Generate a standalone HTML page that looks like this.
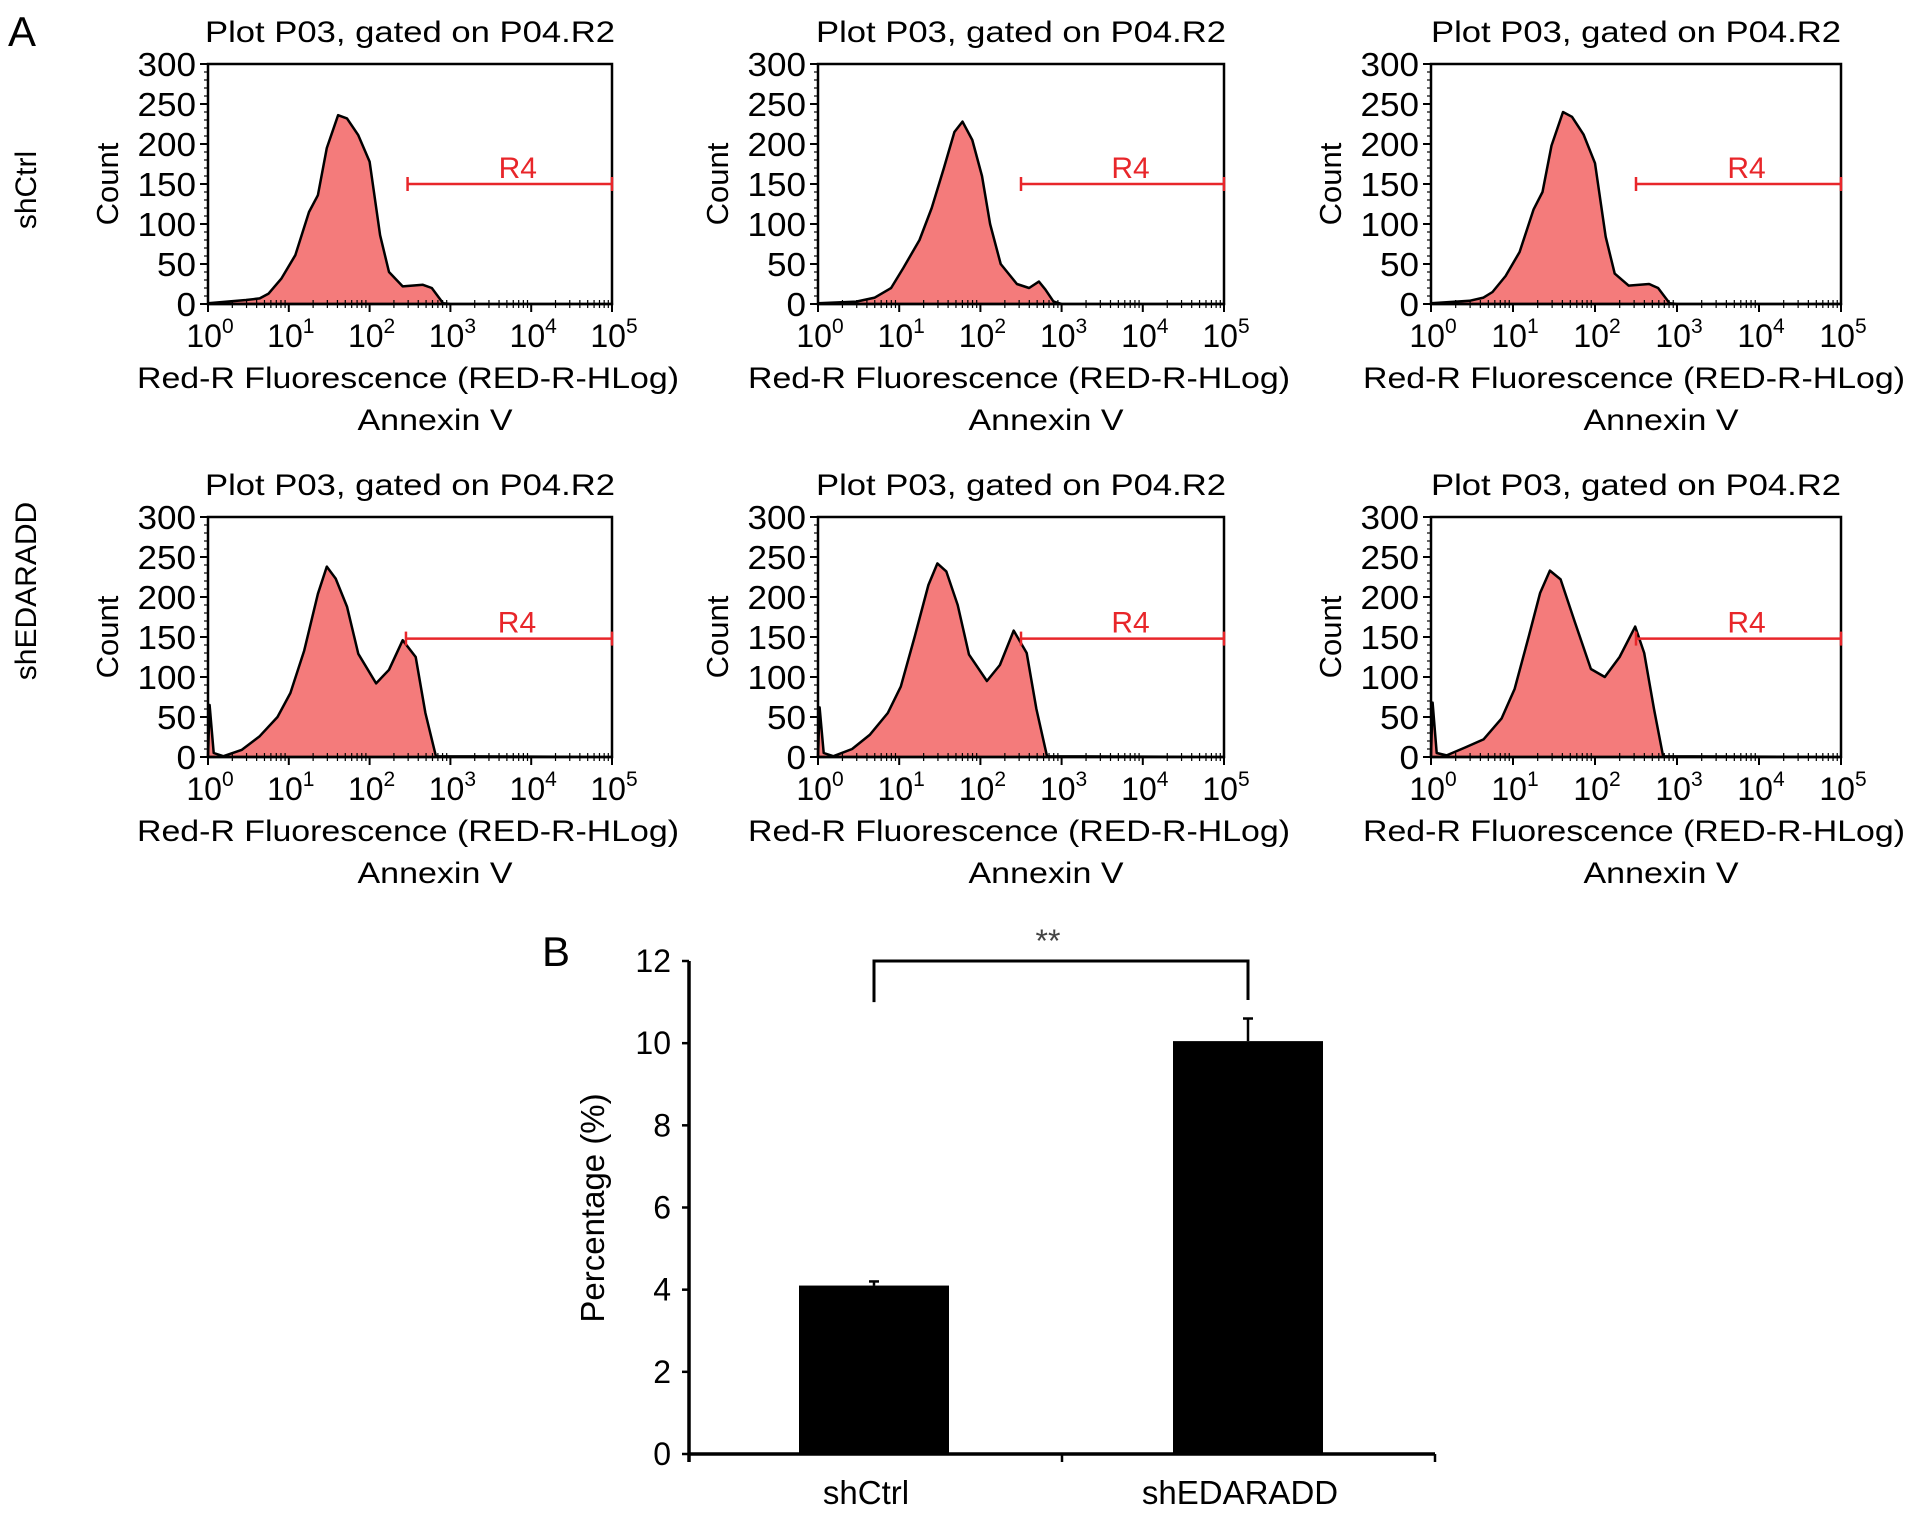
<!DOCTYPE html>
<html><head><meta charset="utf-8"><style>
html,body{margin:0;padding:0;background:#fff;overflow:hidden;}
svg{display:block;font-family:"Liberation Sans",Arial,sans-serif;}
</style></head><body>
<svg id="fig" width="1913" height="1513" viewBox="0 0 1913 1513" xmlns="http://www.w3.org/2000/svg">
<text x="8" y="46" font-size="42">A</text>
<text x="542" y="966" font-size="42">B</text>
<text transform="translate(36,190) rotate(-90)" text-anchor="middle" font-size="30">shCtrl</text>
<text transform="translate(36,591) rotate(-90)" text-anchor="middle" font-size="30">shEDARADD</text>
<g id="hists"></g>
<g id="bars"></g>
</svg>
<script>
// Histogram data: log10 fluorescence positions and counts per panel
const histX1 = [0,0.47,0.64,0.75,0.91,1.08,1.25,1.36,1.47,1.61,1.72,1.86,2.0,2.13,2.24,2.41,2.66,2.77,2.91,3.0,5];
const histY1 = [1,5,7,13,32,61,115,136,195,236,232,211,178,86,40,22,24,20,1,0,0];
const histX2 = [0,0.47,0.7,0.9,1.05,1.25,1.4,1.55,1.68,1.78,1.9,2.02,2.12,2.25,2.45,2.6,2.72,2.8,2.9,3.0,5];
const histY2 = [1,3,8,20,45,80,120,170,215,228,205,160,100,50,25,20,28,18,3,0,0];
const histY3 = [1,4,8,15,35,65,118,140,198,240,234,212,176,84,38,23,25,20,1,0,0];
const histX4 = [0,0.02,0.07,0.19,0.42,0.64,0.86,1.02,1.19,1.36,1.47,1.58,1.72,1.86,2.08,2.24,2.41,2.57,2.69,2.82,5];
const histY4 = [1,65,5,1,9,26,50,80,133,204,238,223,188,129,92,109,146,125,55,1,0];
const histY5 = [1,62,5,1,10,28,55,88,150,215,242,232,190,128,95,115,158,130,60,1,0];
const histX6 = [0,0.02,0.07,0.19,0.42,0.64,0.86,1.02,1.19,1.33,1.45,1.58,1.75,1.95,2.12,2.3,2.49,2.6,2.72,2.83,5];
const histY6 = [1,68,5,2,12,22,48,85,150,205,233,222,170,110,100,125,163,130,60,1,0];
const yTicks = [0,50,100,150,200,250,300];
const xDecades = [0,1,2,3,4,5];
const r4Start = [2.47,2.5,2.5,2.45,2.5,2.5];
const r4Level = [150,150,150,148,148,148];

const panels = [
  {x:208,y:64,w:404,hx:histX1,hy:histY1},
  {x:818,y:64,w:406,hx:histX2,hy:histY2},
  {x:1431,y:64,w:410,hx:histX1,hy:histY3},
  {x:208,y:517,w:404,hx:histX4,hy:histY4},
  {x:818,y:517,w:406,hx:histX4,hy:histY5},
  {x:1431,y:517,w:410,hx:histX6,hy:histY6}
];
const NS='http://www.w3.org/2000/svg';
function mk(tag,attrs,parent){const e=document.createElementNS(NS,tag);for(const k in attrs)e.setAttribute(k,attrs[k]);parent.appendChild(e);return e;}
const H=240;
const hg=document.getElementById('hists');
panels.forEach((p,i)=>{
  const g=mk('g',{},hg);
  
  
  const sx=v=>p.x+v/5*p.w, sy=v=>p.y+H-v/300*H;
  let d='M'+sx(p.hx[0])+','+sy(0);
  p.hx.forEach((v,j)=>{d+=' L'+sx(v).toFixed(1)+','+sy(p.hy[j]).toFixed(1);});
  d+=' L'+sx(5)+','+sy(0)+' Z';
  const area=mk('path',{d:d,fill:'#f47b7b',stroke:'#000','stroke-width':2.5,'stroke-linejoin':'round'},g);
  
  
  const box=mk('rect',{x:p.x,y:p.y,width:p.w,height:H,fill:'none',stroke:'#000','stroke-width':2.5},g);
  
  
  yTicks.forEach(t=>{
    mk('line',{x1:p.x-8,x2:p.x,y1:sy(t),y2:sy(t),stroke:'#000','stroke-width':2},g);
    const tl=mk('text',{x:p.x-12,y:sy(t)+12,'text-anchor':'end','font-size':33,textLength:String(t).length*19.5,lengthAdjust:'spacingAndGlyphs'},g);
    tl.textContent=t;
    
    
  });
  for(let t=10;t<300;t+=10){ if(t%50) mk('line',{x1:p.x-4,x2:p.x,y1:sy(t),y2:sy(t),stroke:'#000','stroke-width':1.2},g); }
  xDecades.forEach(dd=>{
    mk('line',{x1:sx(dd),x2:sx(dd),y1:p.y+H,y2:p.y+H+8,stroke:'#000','stroke-width':2},g);
    const tl=mk('text',{x:sx(dd)+2,y:p.y+H+43,'text-anchor':'middle','font-size':32},g);
    
    
    tl.textContent='10';
    const sp=mk('tspan',{'font-size':21,dy:-14},tl); sp.textContent=dd;
    if(dd<5) for(let m=2;m<10;m++){const xx=sx(dd+Math.log10(m));mk('line',{x1:xx,x2:xx,y1:p.y+H-4,y2:p.y+H+4,stroke:'#000','stroke-width':1.2},g);}
  });
  const tt=mk('text',{x:p.x+p.w/2,y:p.y-22,'text-anchor':'middle','font-size':30,textLength:410,lengthAdjust:'spacingAndGlyphs'},g);
  tt.textContent='Plot P03, gated on  P04.R2';
  
  
  const xl=mk('text',{x:p.x+p.w/2-2,y:p.y+H+84,'text-anchor':'middle','font-size':30,textLength:542,lengthAdjust:'spacingAndGlyphs'},g);
  xl.textContent='Red-R Fluorescence (RED-R-HLog)';
  
  
  const an=mk('text',{x:p.x+p.w/2+25,y:p.y+H+126,'text-anchor':'middle','font-size':30,textLength:155,lengthAdjust:'spacingAndGlyphs'},g);
  an.textContent='Annexin V';
  
  
  const yl=mk('text',{transform:'translate('+(p.x-90)+','+(p.y+H/2)+') rotate(-90)','text-anchor':'middle','font-size':31},g);
  yl.textContent='Count';
  
  
  const gx1=sx(r4Start[i]), gx2=sx(5), gy=sy(r4Level[i]);
  const gl=mk('g',{stroke:'#e8262a','stroke-width':2.5},g);
  
  
  mk('line',{x1:gx1,x2:gx2,y1:gy,y2:gy},gl);
  mk('line',{x1:gx1,x2:gx1,y1:gy-7,y2:gy+7},gl);
  mk('line',{x1:gx2,x2:gx2,y1:gy-7,y2:gy+7},gl);
  const rl=mk('text',{x:(gx1+gx2)/2+8,y:gy-6,'text-anchor':'middle','font-size':30,fill:'#e8262a'},g);
  rl.textContent='R4';
  
  
});

// Bar chart data
const barCats = ['shCtrl','shEDARADD'];
const barVals = [4.1,10.05];
const barErr = [0.1,0.55];
const barTicks = [0,2,4,6,8,10,12];
const bg=document.getElementById('bars');
const X0=689, X1=1435, Y0=1454, YT=961;
const by=v=>Y0-v/12*(Y0-YT);
const bcx=[874,1248];
const bw=150;
mk('line',{x1:X0,x2:X0,y1:YT,y2:Y0+8,stroke:'#000','stroke-width':3.5},bg);
mk('line',{x1:X0,x2:X1,y1:Y0,y2:Y0,stroke:'#000','stroke-width':3.5},bg);
mk('line',{x1:1062,x2:1062,y1:Y0,y2:Y0+8,stroke:'#000','stroke-width':2.5},bg);
mk('line',{x1:X1,x2:X1,y1:Y0,y2:Y0+8,stroke:'#000','stroke-width':2.5},bg);
barTicks.forEach(t=>{
  mk('line',{x1:X0-7,x2:X0,y1:by(t),y2:by(t),stroke:'#000','stroke-width':2.5},bg);
  const tl=mk('text',{x:X0-18,y:by(t)+11,'text-anchor':'end','font-size':32},bg);
  tl.textContent=t;
  
  
});
barCats.forEach((c,i)=>{
  const r=mk('rect',{x:bcx[i]-bw/2,y:by(barVals[i]),width:bw,height:Y0-by(barVals[i]),fill:'#000'},bg);
  
  
  const e=mk('g',{stroke:'#000','stroke-width':2.5},bg);
  
  
  mk('line',{x1:bcx[i],x2:bcx[i],y1:by(barVals[i]),y2:by(barVals[i]+barErr[i])},e);
  mk('line',{x1:bcx[i]-5,x2:bcx[i]+5,y1:by(barVals[i]+barErr[i]),y2:by(barVals[i]+barErr[i])},e);
  const cl=mk('text',{x:bcx[i]-8,y:1504,'text-anchor':'middle','font-size':33},bg);
  cl.textContent=c;
  
  
});
const br=mk('path',{d:'M'+bcx[0]+','+by(11)+' V'+by(12)+' H'+bcx[1]+' V'+by(11.05),fill:'none',stroke:'#000','stroke-width':3},bg);


const st=mk('text',{x:1048,y:952,'text-anchor':'middle','font-size':32,fill:'#444'},bg);
st.textContent='**';


const pl=mk('text',{transform:'translate(604,1208) rotate(-90)','text-anchor':'middle','font-size':33},bg);
pl.textContent='Percentage (%)';


</script>
</body></html>
